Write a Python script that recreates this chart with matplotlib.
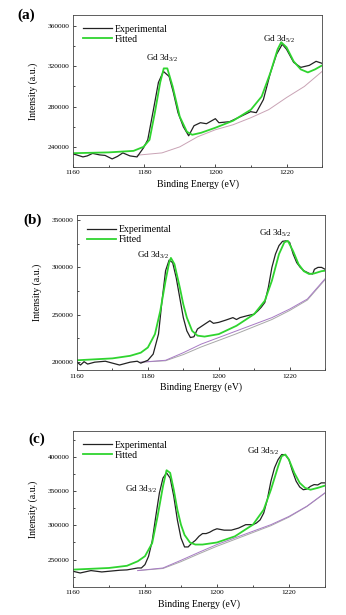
import numpy as np
import matplotlib
matplotlib.use('Agg')
import matplotlib.pyplot as plt
from matplotlib.ticker import AutoMinorLocator

plt.rcParams['font.family'] = ['Liberation Serif', 'DejaVu Serif']
plt.rcParams['mathtext.fontset'] = 'custom'
plt.rcParams['mathtext.rm'] = 'Liberation Serif'

#Panel (a)
a_exp_x = [1160, 1161, 1162.8, 1164, 1165.5, 1167.5, 1169, 1171, 1172.5, 1174, 1176, 1178, 1179.8, 1181,
           1182.6, 1184, 1185.4, 1187, 1188.2, 1189.5, 1191, 1192.5, 1194, 1195.8, 1197.5, 1200, 1201,
           1204, 1207, 1209.9, 1211.5, 1213.5, 1215.5, 1217.2, 1218.8, 1220, 1222, 1224, 1226.4, 1228.3, 1230]
a_exp_y = [233000, 232000, 230000, 231000, 233500, 232000, 231500, 228000, 230500, 234000, 231000, 230000,
           239000, 247000, 277000, 304000, 315000, 310000, 294000, 274000, 260000, 251000, 261000, 264000,
           263000, 268000, 264000, 265000, 270000, 275000, 274000, 287000, 314000, 332000, 342000, 337000,
           324000, 319000, 321000, 325000, 323000]
a_fit_x = [1160, 1170, 1177, 1179.8, 1181.5, 1183, 1184.5, 1185.5, 1186.5, 1188, 1190, 1192, 1193.5, 1196,
           1200, 1205, 1210, 1213, 1215.5, 1217.5, 1218.5, 1220, 1222, 1224, 1226, 1228, 1230]
a_fit_y = [233700, 234500, 236000, 240000, 247000, 274000, 304000, 318000, 318000, 300000, 270000, 255000,
           252000, 254000, 259000, 266000, 277000, 290000, 314000, 337000, 344000, 339000, 325000, 317000,
           314000, 317000, 321000]
a_bg_x = [1178, 1185, 1190, 1195, 1200, 1205, 1210, 1215, 1220, 1225, 1230]
a_bg_y = [231700, 234000, 240000, 250000, 257000, 262000, 269000, 277000, 289000, 300000, 315000]

#Panel (b)
b_exp_x = [1160, 1161, 1162, 1163, 1165, 1168, 1172, 1175, 1177, 1178, 1180, 1181.5, 1183, 1184, 1185, 1186,
           1187, 1188, 1189, 1190, 1191, 1192, 1193, 1194, 1196, 1197.5, 1198.5, 1200, 1202, 1204, 1205,
           1206, 1208, 1210, 1211, 1212, 1213, 1214, 1215, 1216, 1217, 1218, 1219, 1220, 1221, 1222, 1223,
           1224, 1225.5, 1226.5, 1227, 1228, 1229, 1230]
b_exp_y = [200000, 197000, 200500, 198000, 200000, 201000, 197000, 200000, 201000, 199000, 202000, 208500,
           229600, 265000, 296500, 307700, 305000, 289000, 268000, 247000, 233000, 226000, 226800, 235000,
           240000, 243700, 241000, 242000, 244400, 247000, 245000, 247000, 249000, 250700, 254000, 258000,
           263000, 279000, 300000, 314000, 323000, 327500, 328000, 326400, 314000, 305000, 300000, 296500,
           293700, 293000, 298000, 300000, 300000, 298000]
b_fit_x = [1160, 1170, 1175, 1178, 1180, 1182, 1183.5, 1185, 1186, 1186.5, 1187.5, 1189, 1190, 1191, 1192.5,
           1194, 1196, 1200, 1205, 1210, 1213, 1215, 1217, 1218.5, 1219.5, 1221, 1222.5, 1224, 1225.5, 1227,
           1229, 1230]
b_fit_y = [202000, 204000, 206700, 210000, 215500, 229600, 254000, 286000, 305000, 310000, 303500, 279000,
           261000, 247000, 233000, 228000, 227000, 229600, 238400, 250700, 264800, 286000, 314000, 326400,
           328000, 317000, 303500, 296000, 293000, 293700, 296000, 296500]
b_bg_x = [1178, 1185, 1190, 1195, 1200, 1205, 1210, 1215, 1220, 1225, 1230]
b_bg_y = [200000, 202000, 210000, 219000, 226000, 233000, 240000, 247000, 256000, 266600, 288000]
b_bg2_y = [200000, 201500, 208000, 216000, 223000, 230000, 237500, 245000, 254500, 265500, 287000]

#Panel (c)
c_exp_x = [1160, 1162, 1165, 1168, 1170, 1173, 1175, 1178, 1179, 1180, 1181, 1182, 1183, 1184, 1185, 1186,
           1187, 1188, 1189, 1190, 1191, 1192, 1193, 1194, 1195, 1196, 1197, 1198, 1199, 1200, 1202, 1204,
           1206, 1208, 1210, 1211, 1212, 1213, 1214, 1215, 1216, 1217, 1218, 1219, 1220, 1221, 1222, 1223,
           1224, 1225, 1226, 1227, 1228, 1229, 1230]
c_exp_y = [233000, 230500, 234000, 232000, 233000, 234500, 235000, 237800, 237800, 242700, 254900, 277000,
           313000, 347000, 369000, 376600, 369000, 342500, 308000, 281700, 268500, 268500, 274000, 278000,
           284000, 288000, 288000, 290000, 293000, 295000, 293000, 293000, 296000, 301000, 301000, 303500,
           308000, 318000, 337700, 364500, 384000, 396000, 403400, 403000, 396000, 379000, 364500, 356000,
           352000, 353000, 357000, 359500, 359000, 362000, 362000]
c_fit_x = [1160, 1170, 1175, 1178, 1180, 1182, 1183.5, 1185, 1186, 1187, 1188, 1189, 1190, 1191, 1192.5,
           1194, 1196, 1200, 1205, 1210, 1213, 1215, 1217, 1218, 1219, 1220, 1221.5, 1223, 1224.5, 1226,
           1228, 1230]
c_fit_y = [235400, 237800, 241000, 247600, 255000, 274000, 313000, 357000, 380500, 376600, 352000, 323000,
           301000, 286000, 275000, 272000, 272000, 275000, 284000, 301000, 323000, 352000, 386000, 401000,
           403400, 396000, 376600, 362000, 354700, 352000, 354700, 358000]
c_bg_x = [1178, 1185, 1190, 1195, 1200, 1205, 1210, 1215, 1220, 1225, 1230]
c_bg_y = [234000, 237800, 249000, 260700, 272000, 281700, 291400, 301000, 313000, 328000, 347400]
c_bg2_y = [234000, 237000, 247000, 258500, 269500, 279500, 289500, 299500, 312000, 327500, 347000]

panels = [
    ('(a)', [0.211, 0.7285, 0.720, 0.247], (220000, 371000), [240000, 280000, 320000, 360000],
     a_exp_x, a_exp_y, a_fit_x, a_fit_y, a_bg_x, [a_bg_y], ['#c9a3b5'],
     (1185, 328000), (1218, 347000), (0.075, 0.975)),
    ('(b)', [0.2225, 0.398, 0.717, 0.252], (191500, 355000), [200000, 250000, 300000, 350000],
     b_exp_x, b_exp_y, b_fit_x, b_fit_y, b_bg_x, [b_bg2_y, b_bg_y], ['#a8a8a8', '#a77ac4'],
     (1181.5, 312300), (1216, 336000), (0.095, 0.642)),
    ('(c)', [0.211, 0.0455, 0.728, 0.254], (210000, 438000), [250000, 300000, 350000, 400000],
     c_exp_x, c_exp_y, c_fit_x, c_fit_y, c_bg_x, [c_bg2_y, c_bg_y], ['#a8a8a8', '#a77ac4'],
     (1179, 352300), (1212.8, 408300), (0.107, 0.285)),
]

fig = plt.figure(figsize=(3.46, 6.15), dpi=100)

for lab, pos, ylim, yt, ex, ey, fx, fy, bx, bys, bcs, t1, t2, lp in panels:
    ax = fig.add_axes(pos)
    for by, bc in zip(bys, bcs):
        ax.plot(bx, by, color=bc, lw=0.7)
    ax.plot(ex, ey, color='#222222', lw=0.9, label='Experimental')
    ax.plot(fx, fy, color='#2fd42f', lw=1.3, label='Fitted')
    ax.set_xlim(1160, 1230)
    ax.set_ylim(*ylim)
    ax.set_xticks([1160, 1180, 1200, 1220])
    ax.set_yticks(yt)
    ax.xaxis.set_minor_locator(AutoMinorLocator(2))
    ax.yaxis.set_minor_locator(AutoMinorLocator(2))
    ax.tick_params(direction='in', which='both', labelsize=5.3, length=2, width=0.5, pad=2.5)
    ax.tick_params(which='minor', length=1.2)
    for s in ax.spines.values():
        s.set_linewidth(0.6)
        s.set_color('#444444')
    ax.set_xlabel('Binding Energy (eV)', fontsize=7, labelpad=2.5)
    ax.set_ylabel('Intensity (a.u.)', fontsize=7, labelpad=7)
    ax.legend(loc='upper left', fontsize=7, frameon=False, handlelength=3.0,
              borderaxespad=0.6, borderpad=0.4, labelspacing=0.1, handletextpad=0.3)
    ax.text(t1[0], t1[1], r'Gd 3d$_{3/2}$', fontsize=6.5, ha='center', va='center')
    ax.text(t2[0], t2[1], r'Gd 3d$_{5/2}$', fontsize=6.5, ha='center', va='center')
    fig.text(lp[0], lp[1], lab, fontsize=11, fontweight='bold', ha='center', va='center')

plt.savefig('out.png', dpi=100)
